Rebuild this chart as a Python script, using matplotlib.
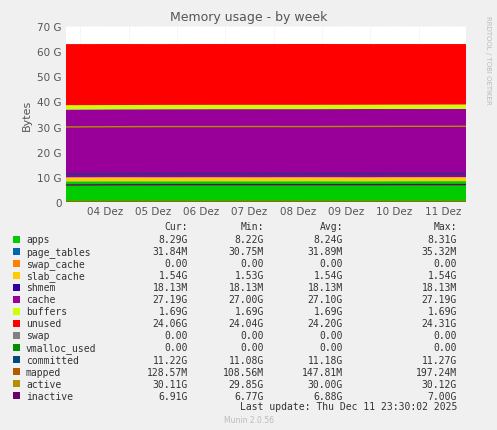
import matplotlib
matplotlib.use("Agg")
import matplotlib.pyplot as plt
import numpy as np

# time in days from Dec 3 16:45 (plot start) ; points roughly every day
t = [0.0, 1.0, 2.0, 3.0, 4.0, 5.0, 6.0, 7.0, 8.28]
apps = [8.22, 8.24, 8.23, 8.25, 8.24, 8.26, 8.24, 8.27, 8.29]
page_tables = [0.032] * 9
swap_cache = [0.0] * 9
slab_cache = [1.53, 1.54, 1.54, 1.54, 1.54, 1.54, 1.54, 1.54, 1.54]
shmem = [0.018] * 9
cache = [27.0, 27.05, 27.1, 27.1, 27.12, 27.1, 27.15, 27.17, 27.19]
buffers = [1.69] * 9
unused = [24.31, 24.25, 24.2, 24.2, 24.18, 24.2, 24.15, 24.1, 24.06]
swap = [0.0] * 9
vmalloc_used = [0.0] * 9
committed = [11.08, 11.15, 11.18, 11.2, 11.18, 11.16, 11.2, 11.22, 11.22]
mapped = [0.11, 0.15, 0.15, 0.14, 0.16, 0.15, 0.14, 0.13, 0.1286]
active = [29.85, 29.95, 30.0, 30.0, 30.02, 30.0, 30.05, 30.1, 30.11]
inactive = [6.77, 6.85, 6.88, 6.9, 6.9, 6.88, 6.9, 6.92, 6.91]
day_labels = ["04 Dez", "05 Dez", "06 Dez", "07 Dez", "08 Dez", "09 Dez", "10 Dez", "11 Dez"]

stack_names = ["apps", "page_tables", "swap_cache", "slab_cache", "shmem", "cache", "buffers", "unused", "swap", "vmalloc_used"]
stack_vals = [apps, page_tables, swap_cache, slab_cache, shmem, cache, buffers, unused, swap, vmalloc_used]
colors = {"apps": "#00CC00", "page_tables": "#0066B3", "swap_cache": "#FF8000", "slab_cache": "#FFCC00",
          "shmem": "#330099", "cache": "#990099", "buffers": "#CCFF00", "unused": "#FF0000",
          "swap": "#808080", "vmalloc_used": "#008F00", "committed": "#00487D", "mapped": "#B35A00",
          "active": "#B38F00", "inactive": "#6B006B"}

fig = plt.figure(figsize=(4.97, 4.31), dpi=100, facecolor="#F0F0F0")
W, H = 497, 431
ax = fig.add_axes([66 / W, 1 - 203 / H, 400 / W, 176 / H], facecolor="white")
ax.stackplot(t, *stack_vals, colors=[colors[n] for n in stack_names], linewidth=0, zorder=2)
for n, v in [("committed", committed), ("mapped", mapped), ("active", active), ("inactive", inactive)]:
    ax.plot(t, v, color=colors[n], lw=1, zorder=3)
ax.set_xlim(0, 8.28)
ax.set_ylim(0, 70)
ax.set_yticks(range(0, 71, 10))
ax.set_yticklabels(["0"] + [f"{v} G" for v in range(10, 71, 10)], fontsize=7.5, color="#555555")
grid_days = [0.3 + i for i in range(8)]
ax.set_xticks([g + 0.5 for g in grid_days])
ax.set_xticklabels(day_labels, fontsize=7.5, color="#555555")
ax.tick_params(length=0, pad=3)
for g in grid_days:
    ax.axvline(g, color="#DDDDDD", lw=0.5, ls=(0, (1, 2)), zorder=1)
for y in range(10, 71, 10):
    ax.axhline(y, color="#DDDDDD", lw=0.5, ls=(0, (1, 2)), zorder=1)
for s in ax.spines.values():
    s.set_visible(False)
ax.set_ylabel("Bytes", fontsize=8, color="#555555")
fig.text(0.5, 1 - 18 / H, "Memory usage - by week", ha="center", va="center", fontsize=9, color="#555555")
fig.text(488 / W, 1 - 60 / H, "RRDTOOL / TOBI OETIKER", rotation=270, ha="center", va="center", fontsize=5, color="#BBBBBB")

rows = [
    ("apps", "8.29G", "8.22G", "8.24G", "8.31G"),
    ("page_tables", "31.84M", "30.75M", "31.89M", "35.32M"),
    ("swap_cache", "0.00", "0.00", "0.00", "0.00"),
    ("slab_cache", "1.54G", "1.53G", "1.54G", "1.54G"),
    ("shmem", "18.13M", "18.13M", "18.13M", "18.13M"),
    ("cache", "27.19G", "27.00G", "27.10G", "27.19G"),
    ("buffers", "1.69G", "1.69G", "1.69G", "1.69G"),
    ("unused", "24.06G", "24.04G", "24.20G", "24.31G"),
    ("swap", "0.00", "0.00", "0.00", "0.00"),
    ("vmalloc_used", "0.00", "0.00", "0.00", "0.00"),
    ("committed", "11.22G", "11.08G", "11.18G", "11.27G"),
    ("mapped", "128.57M", "108.56M", "147.81M", "197.24M"),
    ("active", "30.11G", "29.85G", "30.00G", "30.12G"),
    ("inactive", "6.91G", "6.77G", "6.88G", "7.00G"),
]
fp = dict(fontsize=7, family="DejaVu Sans Mono", color="#333333", va="center")
colx = [188, 264, 343, 457]
for x, h in zip(colx, ["Cur:", "Min:", "Avg:", "Max:"]):
    fig.text(x / W, 1 - 227 / H, h, ha="right", **fp)
for i, r in enumerate(rows):
    y = 240 + i * 12.05
    fig.patches.append(plt.Rectangle((13 / W, 1 - (y + 3.5) / H), 7 / W, 7 / H, transform=fig.transFigure,
                                     facecolor=colors[r[0]], edgecolor="none"))
    fig.text(26 / W, 1 - y / H, r[0], ha="left", **fp)
    for x, v in zip(colx, r[1:]):
        fig.text(x / W, 1 - y / H, v, ha="right", **fp)
fig.text(457 / W, 1 - 407 / H, "Last update: Thu Dec 11 23:30:02 2025", ha="right", **fp)
fig.text(0.5, 1 - 421 / H, "Munin 2.0.56", ha="center", va="center", fontsize=5.5, color="#BBBBBB")
fig.savefig("out.png", dpi=100, facecolor=fig.get_facecolor())
